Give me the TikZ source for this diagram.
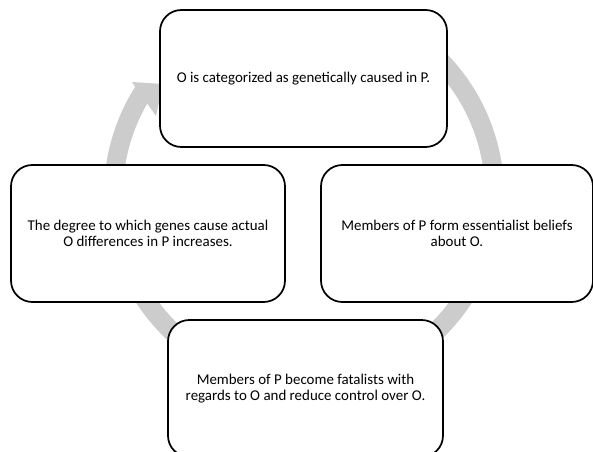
\documentclass[tikz,border=0pt]{standalone}
\usepackage{fontspec}
\setmainfont{Carlito}
\definecolor{ringgray}{RGB}{204,204,204}
\tikzset{
  cyclebox/.style={draw=black, line width=1.3pt, fill=white, rounded corners=16pt,
    align=center, inner sep=0pt, minimum height=102.75pt,
    font=\fontsize{11.2}{12.5}\selectfont},
}
\begin{document}
\begin{tikzpicture}[x=0.75pt, y=0.75pt]
  \clip (0,0) rectangle (593,-452);
  \useasboundingbox (0,0) rectangle (593,-452);
  % circular arrow behind the boxes
  \fill[ringgray] (304,-194) ++(60:200) arc[start angle=60, end angle=-212.4, radius=200]
    -- (132,-82) -- (163,-84) -- (156,-116) -- (147.25,-103.5)
    arc[start angle=-210, end angle=60, radius=181] -- cycle;
  % boxes
  \node[cyclebox, minimum width=215.25pt] (top) at (303.5,-78.5)
    {O is categorized as genetically caused in P.};
  \node[cyclebox, minimum width=204pt] (right) at (457,-233.5)
    {Members of P form essentialist beliefs\\about O.};
  \node[cyclebox, minimum width=206.25pt] (bottom) at (305.5,-388.5)
    {Members of P become fatalists with\\regards to O and reduce control over O.};
  \node[cyclebox, minimum width=205.5pt] (left) at (148,-233.5)
    {The degree to which genes cause actual\\O differences in P increases.};
\end{tikzpicture}
\end{document}
